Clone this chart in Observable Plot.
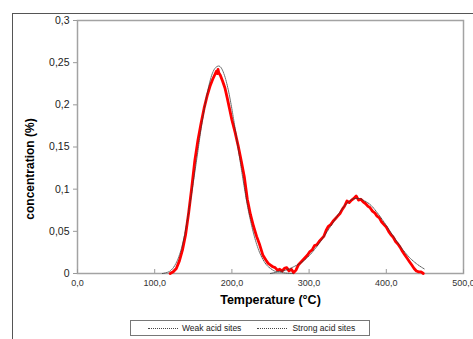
<!DOCTYPE html>
<html>
<head>
<meta charset="utf-8">
<script src="https://cdn.jsdelivr.net/npm/d3@7"></script>
<script src="https://cdn.jsdelivr.net/npm/@observablehq/plot@0.6"></script>
<style>
  body { margin: 0; background: #fff; font-family: "Liberation Sans", Arial, sans-serif; }
  #fig { position: relative; width: 473px; height: 339px; overflow: hidden; }
  #border { position: absolute; left: 12px; top: 13px; width: 470px; height: 340px;
            border-left: 1px solid #555; border-top: 1px solid #555; }
  #chart { position: absolute; left: 0; top: 0; }
  #legend { position: absolute; left: 130px; top: 320px; width: 238px; height: 14px;
            border: 1px solid #777; display: flex; align-items: center;
            font-size: 8.5px; color: #222; white-space: nowrap; }
  .sw { display: inline-block; width: 30px; height: 0; border-top: 1px dotted #444; }
</style>
</head>
<body>
<div id="fig">
  <div id="border"></div>
  <div id="chart"></div>
  <div id="legend">
    <span class="sw" style="margin-left:17px;margin-right:4px"></span><span>Weak acid sites</span>
    <span class="sw" style="margin-left:16px;margin-right:5px"></span><span>Strong acid sites</span>
  </div>
</div>
<script>
// Measured desorption signal (TPD), temperature in °C, concentration in %
const measT = [120,124,128,132,136,140,144,148,152,156,160,164,168,172,175,178,180,181,182,183,185,188,191,194,197,200,204,208,212,216,220,224,228,232,236,240,
  244,247,250,253,256,259,262,265,268,271,274,277,280,283,286,289,292,295,298,301,304,307,310,313,316,319,322,325,328,331,334,337,340,343,346,349,352,355,358,361,364,367,370,373,376,379,382,385,388,391,394,397,400,403,406,409,412,415,418,421,424,427,430,433,436,439,442,445,448];
const measC = [0,0.002,0.006,0.015,0.028,0.046,0.072,0.102,0.134,0.158,0.178,0.196,0.211,0.223,0.230,0.236,0.240,0.237,0.242,0.238,0.235,0.228,0.220,0.208,0.195,0.182,0.168,0.152,0.134,0.115,0.088,0.070,0.056,0.044,0.034,0.022,
  0.016,0.012,0.010,0.008,0.007,0.004,0.005,0.003,0.006,0.007,0.003,0.005,0.001,0.004,0.010,0.013,0.016,0.019,0.022,0.026,0.028,0.033,0.034,0.038,0.041,0.044,0.051,0.056,0.058,0.062,0.065,0.068,0.071,0.076,0.080,0.086,0.084,0.087,0.089,0.092,0.087,0.088,0.085,0.083,0.080,0.078,0.074,0.072,0.068,0.066,0.061,0.058,0.055,0.050,0.046,0.043,0.038,0.035,0.031,0.026,0.022,0.018,0.014,0.010,0.006,0.003,0.002,0.002,0];

// Fitted component: weak acid sites
const weakT = [110,115,120,125,130,135,140,145,150,155,160,165,170,175,180,183,186,190,195,200,205,210,215,220,225,230,235,240,245,250,255,260,270,280];
const weakC = [0,0.001,0.003,0.008,0.017,0.031,0.052,0.079,0.108,0.139,0.171,0.199,0.222,0.238,0.245,0.246,0.244,0.236,0.219,0.195,0.167,0.137,0.108,0.081,0.059,0.041,0.027,0.017,0.010,0.006,0.003,0.002,0.0005,0];

// Fitted component: strong acid sites
const strongT = [250,260,270,280,290,300,310,320,330,340,350,360,365,370,380,390,400,410,420,430,440,450];
const strongC = [0,0.002,0.004,0.008,0.013,0.021,0.032,0.045,0.059,0.073,0.084,0.089,0.089,0.087,0.081,0.070,0.057,0.043,0.030,0.019,0.011,0.005];

// Axis ticks
const xTicks = [0, 100, 200, 300, 400, 500];
const yTicks = [0, 0.05, 0.1, 0.15, 0.2, 0.25, 0.3];

const measured = measT.map((T, i) => ({T, c: measC[i]}));
const weak = weakT.map((T, i) => ({T, c: weakC[i]}));
const strong = strongT.map((T, i) => ({T, c: strongC[i]}));

const fmtX = d => d.toFixed(1).replace(".", ",");
const fmtY = d => d === 0 ? "0" : String(+d.toFixed(2)).replace(".", ",");

const chart = Plot.plot({
  width: 473,
  height: 339,
  marginLeft: 77,
  marginRight: 10,
  marginTop: 20,
  marginBottom: 66,
  style: {fontFamily: "'Liberation Sans', Arial, sans-serif", background: "transparent", color: "#222", overflow: "visible"},
  x: {domain: [0, 500]},
  y: {domain: [0, 0.3]},
  marks: [
    Plot.frame({stroke: "#a3a3a3", strokeWidth: 1.5}),
    Plot.axisY(yTicks, {tickFormat: fmtY, tickSize: 4, tickPadding: 4, fontSize: 10.5, stroke: "#999", fill: "#222", label: null}),
    Plot.axisX(xTicks, {tickFormat: fmtX, tickSize: -4, tickPadding: 10, fontSize: 9, stroke: "#999", fill: "#333", label: null}),
    Plot.line(measured, {x: "T", y: "c", stroke: "#ff0000", strokeWidth: 2.8, strokeLinejoin: "round"}),
    Plot.line(weak, {x: "T", y: "c", stroke: "#333", strokeWidth: 0.8, strokeDasharray: "1,1", curve: "monotone-x"}),
    Plot.line(strong, {x: "T", y: "c", stroke: "#333", strokeWidth: 0.8, strokeDasharray: "1,1", curve: "monotone-x"}),
    Plot.text(["concentration (%)"], {frameAnchor: "left", textAnchor: "middle", lineAnchor: "middle", rotate: -90, dx: -47, dy: 22, fontWeight: "bold", fontSize: 12, fill: "#000"}),
    Plot.text(["Temperature (°C)"], {frameAnchor: "bottom", textAnchor: "middle", lineAnchor: "middle", dy: 26, fontWeight: "bold", fontSize: 12.5, fill: "#000"})
  ]
});
document.getElementById("chart").appendChild(chart);
</script>
</body>
</html>
